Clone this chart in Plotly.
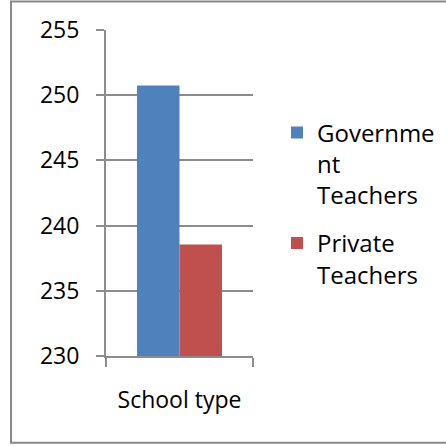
import plotly.graph_objects as go

categories = ["School type"]
series_names = ["Governme<br>nt<br>Teachers", "Private<br>Teachers"]
gov_values = [250.75]
private_values = [238.55]
colors = ["#4F81BD", "#C0504D"]
y_ticks = [230, 235, 240, 245, 250, 255]

W, H = 446, 446
ml, mr, mt, mb = 106, 193, 29.5, 90
pw, ph = W - ml - mr, H - mt - mb

font = dict(family="Open Sans, Liberation Sans, sans-serif", size=23, color="#000000")
legend_font = dict(family="Open Sans, Liberation Sans, sans-serif", size=24, color="#000000")
grey = "#8c8c8c"

fig = go.Figure()
fig.add_trace(go.Bar(x=categories, y=gov_values, name=series_names[0], legendgroup="g1",
                     marker=dict(color=colors[0], line=dict(width=0))))
fig.add_trace(go.Bar(x=categories, y=private_values, name=series_names[1], legendgroup="g2",
                     marker=dict(color=colors[1], line=dict(width=0))))

def px_x(p):
    return (p - ml) / pw

def px_y(p):
    return (H - mb - p) / ph

fig.update_layout(
    width=W, height=H,
    margin=dict(l=ml, r=mr, t=mt, b=mb, pad=0, autoexpand=False),
    paper_bgcolor="white", plot_bgcolor="white",
    font=font,
    barmode="group", bargap=0.422, bargroupgap=0,
    showlegend=True,
    legend=dict(x=px_x(277), y=px_y(110), xanchor="left", yanchor="top",
                valign="top", font=legend_font, bgcolor="rgba(0,0,0,0)",
                tracegroupgap=14, itemclick=False),
    xaxis=dict(type="category", range=[-0.5, 0.5], tickson="boundaries",
               showline=True, linecolor=grey, linewidth=2, tickangle=0, automargin=False,
               ticks="outside", ticklen=9, tickcolor=grey, tickwidth=2,
               showgrid=False, ticklabelstandoff=22, zeroline=False),
    yaxis=dict(range=[230, 255], tickvals=y_ticks, ticktext=[str(v) for v in y_ticks],
               showline=True, linecolor=grey, linewidth=2, automargin=False,
               ticks="outside", ticklen=8, tickcolor=grey, tickwidth=2,
               showgrid=True, gridcolor=grey, gridwidth=2,
               ticklabelstandoff=12, zeroline=False),
    shapes=[dict(type="rect", xref="paper", yref="paper",
                 x0=px_x(11), x1=px_x(448), y0=px_y(443), y1=px_y(1),
                 line=dict(color="#898989", width=2), fillcolor="rgba(0,0,0,0)",
                 layer="below")],
)

fig.write_html("out.html")
